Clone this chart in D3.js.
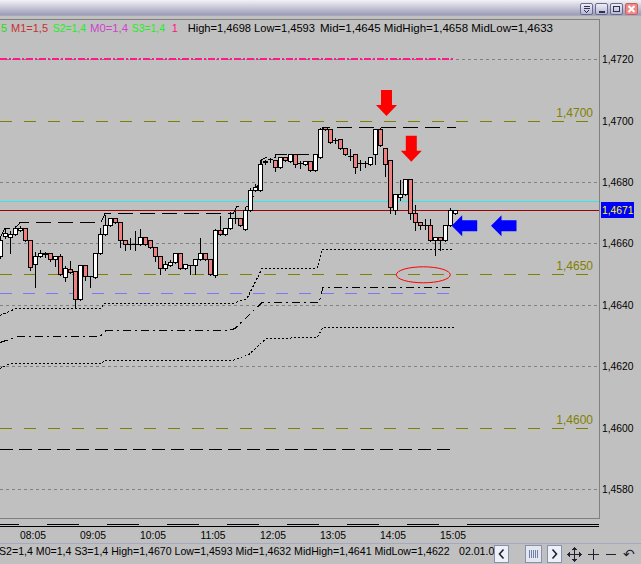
<!DOCTYPE html>
<html><head><meta charset="utf-8">
<script src="https://cdn.jsdelivr.net/npm/d3@7"></script>
<style>
html,body{margin:0;padding:0;background:#c0c0c0;overflow:hidden}
svg{display:block}
text{font-family:"Liberation Sans",Arial,sans-serif}
</style></head><body>
<svg id="c" width="641" height="564"></svg>
<script>
// ---------------- DATA ----------------
const startMinute = 450;           // first bar 07:30, 5-minute bars
const barMinutes = 5;
const opens  = [1.46558,1.46625,1.46621,1.46631,1.46642,1.46650,1.46612,1.46531,1.46560,1.46567,1.46569,1.46550,1.46560,1.46490,1.46515,1.46509,1.46419,1.46529,1.46492,1.46491,1.46569,1.46631,1.46661,1.46681,1.46670,1.46612,1.46598,1.46598,1.46598,1.46621,1.46610,1.46589,1.46559,1.46520,1.46529,1.46540,1.46569,1.46520,1.46529,1.46529,1.46550,1.46569,1.46550,1.46498,1.46642,1.46631,1.46650,1.46681,1.46681,1.46648,1.46710,1.46772,1.46772,1.46866,1.46873,1.46870,1.46848,1.46882,1.46867,1.46892,1.46862,1.46859,1.46867,1.46838,1.46882,1.46980,1.46971,1.46938,1.46941,1.46911,1.46884,1.46892,1.46862,1.46863,1.46859,1.46892,1.46971,1.46911,1.46870,1.46708,1.46751,1.46761,1.46810,1.46699,1.46670,1.46659,1.46661,1.46612,1.46621,1.46612,1.46659,1.46699];
const highs  = [1.46625,1.46651,1.46642,1.46658,1.46658,1.46651,1.46612,1.46574,1.46580,1.46574,1.46570,1.46563,1.46567,1.46528,1.46547,1.46509,1.46529,1.46529,1.46495,1.46569,1.46652,1.46694,1.46687,1.46684,1.46670,1.46612,1.46620,1.46642,1.46650,1.46621,1.46610,1.46589,1.46559,1.46545,1.46550,1.46569,1.46569,1.46531,1.46531,1.46550,1.46621,1.46569,1.46550,1.46650,1.46691,1.46650,1.46705,1.46710,1.46681,1.46721,1.46782,1.46795,1.46876,1.46876,1.46880,1.46870,1.46882,1.46882,1.46892,1.46892,1.46870,1.46867,1.46867,1.46892,1.46980,1.46980,1.46971,1.46945,1.46941,1.46911,1.46911,1.46892,1.46873,1.46871,1.46882,1.46971,1.46980,1.46911,1.46870,1.46761,1.46808,1.46810,1.46810,1.46729,1.46670,1.46683,1.46681,1.46621,1.46621,1.46659,1.46719,1.46710];
const lows   = [1.46554,1.46622,1.46571,1.46629,1.46642,1.46612,1.46515,1.46460,1.46560,1.46558,1.46547,1.46529,1.46500,1.46482,1.46507,1.46393,1.46419,1.46485,1.46460,1.46491,1.46569,1.46631,1.46661,1.46669,1.46591,1.46582,1.46585,1.46583,1.46598,1.46598,1.46589,1.46545,1.46502,1.46515,1.46528,1.46540,1.46520,1.46520,1.46502,1.46502,1.46550,1.46550,1.46501,1.46493,1.46631,1.46631,1.46650,1.46668,1.46659,1.46648,1.46710,1.46772,1.46772,1.46862,1.46868,1.46840,1.46848,1.46870,1.46867,1.46852,1.46850,1.46859,1.46838,1.46838,1.46882,1.46971,1.46929,1.46930,1.46911,1.46892,1.46873,1.46833,1.46843,1.46851,1.46859,1.46862,1.46920,1.46824,1.46703,1.46700,1.46743,1.46761,1.46681,1.46645,1.46650,1.46650,1.46612,1.46564,1.46583,1.46612,1.46659,1.46699];
const closes = [1.46612,1.46635,1.46631,1.46650,1.46650,1.46612,1.46522,1.46560,1.46569,1.46566,1.46550,1.46560,1.46501,1.46520,1.46507,1.46419,1.46529,1.46492,1.46493,1.46569,1.46631,1.46661,1.46681,1.46669,1.46610,1.46598,1.46597,1.46598,1.46621,1.46598,1.46589,1.46559,1.46520,1.46531,1.46540,1.46569,1.46520,1.46531,1.46528,1.46550,1.46569,1.46550,1.46501,1.46642,1.46631,1.46650,1.46681,1.46682,1.46659,1.46710,1.46772,1.46782,1.46859,1.46867,1.46874,1.46848,1.46882,1.46870,1.46892,1.46859,1.46862,1.46867,1.46838,1.46892,1.46971,1.46971,1.46929,1.46938,1.46911,1.46892,1.46884,1.46849,1.46862,1.46863,1.46882,1.46971,1.46920,1.46857,1.46719,1.46761,1.46761,1.46810,1.46699,1.46670,1.46659,1.46659,1.46612,1.46621,1.46612,1.46659,1.46708,1.46708];

// price axis ticks and time ticks
const priceTicks = [1.4720,1.4700,1.4680,1.4660,1.4640,1.4620,1.4600,1.4580];
const gridPrices = [1.4720,1.4680,1.4660,1.4640,1.4620,1.4580];
const roundLevels = [1.4700,1.4650,1.4600];
const timeTicks = [485,545,605,665,725,785,845,905];
const timeLabels = ["08:05","09:05","10:05","11:05","12:05","13:05","14:05","15:05"];

// full-width reference lines
const cyanLevel = 1.46739;
const lastPrice = 1.4671;
// partial reference lines [startMinute, endMinute, price]
const pinkLevel = [452, 907, 1.4720];
const blueLevel = [452, 904, 1.46437];
const lowLevel  = [452, 907, 1.45931];

// running session lines [minute, price]
const highLine = [[452,1.46622],[457,1.46651],[467,1.46651],[472,1.46671],[553,1.46671],[557,1.46699],[685,1.46699],[689,1.46720],[702,1.46720],[708,1.46782],[712,1.46795],[714,1.46876],[718,1.46882],[727,1.46882],[728,1.46892],[770,1.46892],[775,1.46980],[908,1.46980]];
const line1 = [[452,1.46368],[468,1.46390],[552,1.46390],[557,1.46406],[685,1.46406],[699,1.46423],[714,1.46520],[769,1.46520],[774,1.46582],[905,1.46582]];
const line2 = [[452,1.46277],[470,1.46297],[552,1.46297],[558,1.46316],[681,1.46316],[687,1.46325],[714,1.46409],[771,1.46409],[775,1.46457],[902,1.46457]];
const line3 = [[452,1.46194],[462,1.46211],[554,1.46211],[556,1.46219],[685,1.46219],[701,1.46238],[718,1.46292],[769,1.46295],[775,1.46327],[908,1.46327]];

// annotations [minute, price]
const downArrows = [[838.5,1.47016],[863.3,1.46867]];
const leftArrows = [[903.7,1.46659],[943,1.46659]];
const ellipseMark = [875.3,1.46499];

// legend pieces
const legendItems = [
  {t:"5", x:1, c:"#22dd22"},
  {t:"M1=1,5", x:11, w:37, c:"#c83232"},
  {t:"S2=1,4", x:52.7, w:33.3, c:"#22ee22"},
  {t:"M0=1,4", x:90, w:38, c:"#cc44cc"},
  {t:"S3=1,4", x:131.7, w:33.3, c:"#22ee22"},
  {t:"1", x:171.7, c:"#ff1080"},
  {t:"High=1,4698 Low=1,4593", x:187.7, w:127.3, c:"#000"},
  {t:"Mid=1,4645 MidHigh=1,4658 MidLow=1,4633", x:320, w:233, c:"#000"}
];
const statusText = "S2=1,4 M0=1,4 S3=1,4 High=1,4670 Low=1,4593 Mid=1,4632 MidHigh=1,4641 MidLow=1,4622";
const statusDate = "02.01.0";

// ---------------- DRAW ----------------
const svg = d3.select('#c');
const defs = svg.append('defs');
const plotL = 0, plotR = 599, plotT = 19, plotB = 518;

const x = d3.scaleLinear().domain([startMinute, 910]).range([-2, 458]);
const y = d3.scaleLinear().domain([1.4720, 1.4580]).range([59.6, 489.4]);
const py = p => Math.floor(y(p)) + 0.5;
const fmtP = p => d3.format('.4f')(p).replace('.', ',');

svg.append('rect').attr('width',641).attr('height',564).attr('fill','#c0c0c0');

// title bar
const tb = defs.append('linearGradient').attr('id','tb').attr('x1',0).attr('y1',0).attr('x2',0).attr('y2',1);
tb.append('stop').attr('offset','0%').attr('stop-color','#f2f2f6');
tb.append('stop').attr('offset','100%').attr('stop-color','#9c9cb8');
svg.append('rect').attr('x',0).attr('y',0).attr('width',641).attr('height',15).attr('fill','url(#tb)');
svg.append('rect').attr('x',0).attr('y',15).attr('width',641).attr('height',1).attr('fill','#a8a8bc');

// window buttons
const wb = defs.append('linearGradient').attr('id','wb').attr('x1',0).attr('y1',0).attr('x2',0).attr('y2',1);
wb.append('stop').attr('offset','0%').attr('stop-color','#f0f0fa');
wb.append('stop').attr('offset','100%').attr('stop-color','#b4b4d0');
const winBtns = [580.5, 595.5, 610.5, 625.5];
winBtns.forEach((bx,i)=>{
  svg.append('rect').attr('x',bx).attr('y',3.5).attr('width',12).attr('height',11).attr('rx',1.5)
    .attr('fill', i===3 ? '#f08a8a' : 'url(#wb)').attr('stroke', i===3 ? '#c06060' : '#6a6a90');
});
const sym = svg.append('g').attr('stroke','#303050').attr('fill','none').attr('shape-rendering','crispEdges');
sym.append('path').attr('d','M583.5,6.5h6M583.5,8.5h6M584.5,10.5l2,2l2,-2');
sym.append('path').attr('d','M598.5,11.5h6').attr('stroke-width',2);
sym.append('rect').attr('x',613.5).attr('y',6.5).attr('width',6).attr('height',5);
svg.append('path').attr('d','M628.5,6l6,6M634.5,6l-6,6').attr('stroke','#fff').attr('stroke-width',2);

// legend
const lg = svg.append('g').attr('font-size',11);
legendItems.forEach(d=>{
  const t = lg.append('text').attr('x',d.x).attr('y',31.5).attr('fill',d.c).text(d.t);
  if (d.w) t.attr('textLength',d.w).attr('lengthAdjust','spacingAndGlyphs');
});

// clip for plot
defs.append('clipPath').attr('id','pc').append('rect').attr('x',plotL).attr('y',plotT).attr('width',plotR-plotL).attr('height',plotB-plotT);
const plot = svg.append('g').attr('clip-path','url(#pc)');
const crisp = plot.append('g').attr('shape-rendering','crispEdges');

// gray gridlines
crisp.selectAll('line.grid').data(gridPrices).join('line').attr('class','grid')
  .attr('x1',plotL).attr('x2',plotR).attr('y1',py).attr('y2',py)
  .attr('stroke','#808080').attr('stroke-dasharray','3,3');

// pink line
crisp.append('line').attr('x1',x(pinkLevel[0])).attr('x2',x(pinkLevel[1]))
  .attr('y1',y(pinkLevel[2])-0.5).attr('y2',y(pinkLevel[2])-0.5)
  .attr('stroke','#ff1a8c').attr('stroke-width',2).attr('stroke-dasharray','7,2,2,2');

// olive round levels
crisp.selectAll('line.rl').data(roundLevels).join('line').attr('class','rl')
  .attr('x1',plotL).attr('x2',plotR).attr('y1',py).attr('y2',py)
  .attr('stroke','#808000').attr('stroke-dasharray','12,12');
plot.selectAll('text.rl').data(roundLevels).join('text').attr('class','rl')
  .attr('x',593).attr('y',d=>y(d)-4.5).attr('text-anchor','end')
  .attr('font-size',12).attr('fill','#808000').text(fmtP);

// cyan and last price lines
crisp.append('line').attr('x1',plotL).attr('x2',plotR).attr('y1',py(cyanLevel)).attr('y2',py(cyanLevel)).attr('stroke','#30e8e8');
crisp.append('line').attr('x1',plotL).attr('x2',plotR).attr('y1',py(lastPrice)).attr('y2',py(lastPrice)).attr('stroke','#a00000');

// blue level
crisp.append('line').attr('x1',x(blueLevel[0])).attr('x2',x(blueLevel[1])).attr('y1',py(blueLevel[2])).attr('y2',py(blueLevel[2]))
  .attr('stroke','#7878ff').attr('stroke-dasharray','12,11');

// low level
crisp.append('line').attr('x1',x(lowLevel[0])).attr('x2',x(lowLevel[1])).attr('y1',py(lowLevel[2])).attr('y2',py(lowLevel[2]))
  .attr('stroke','#000').attr('stroke-dasharray','13,6');

// running lines
const ln = d3.line().x(d=>x(d[0])).y(d=>py(d[1]));
const stepStyles = [
  {data: highLine, dash:'15,7'},
  {data: line1, dash:'2,2'},
  {data: line2, dash:'8,4,2,4'},
  {data: line3, dash:'2,2'}
];
stepStyles.forEach(s=>{
  crisp.append('path').attr('d',ln(s.data)).attr('fill','none').attr('stroke','#000').attr('stroke-dasharray',s.dash);
});

// candles
const bars = opens.map((o,i)=>({t:startMinute+barMinutes*i, o, h:highs[i], l:lows[i], c:closes[i]}));
const cg = crisp.append('g');
bars.forEach(d=>{
  const cx = x(d.t)+2.5;
  cg.append('line').attr('x1',cx).attr('x2',cx).attr('y1',py(d.h)).attr('y2',py(d.l)+1).attr('stroke','#000');
  const top = py(Math.max(d.o,d.c)), bot = py(Math.min(d.o,d.c));
  if (bot-top < 1) {
    cg.append('line').attr('x1',cx-2.5).attr('x2',cx+2.5).attr('y1',top).attr('y2',top).attr('stroke','#000');
  } else {
    cg.append('rect').attr('x',cx-2).attr('y',top).attr('width',4).attr('height',bot-top)
      .attr('fill', d.c>=d.o ? '#ffffff' : '#f08080').attr('stroke','#000');
  }
});

// annotations
plot.append('ellipse').attr('cx',x(ellipseMark[0])).attr('cy',y(ellipseMark[1])).attr('rx',27).attr('ry',8)
  .attr('fill','none').attr('stroke','#ff0000');
downArrows.forEach(a=>{
  const tx=x(a[0]), ty=y(a[1]);
  plot.append('path').attr('fill','#ff0000')
    .attr('d',`M${tx},${ty}L${tx-10.5},${ty-11}L${tx-5.5},${ty-11}L${tx-5.5},${ty-26}L${tx+5.5},${ty-26}L${tx+5.5},${ty-11}L${tx+10.5},${ty-11}Z`);
});
leftArrows.forEach(a=>{
  const tx=x(a[0]), ty=y(a[1]);
  plot.append('path').attr('fill','#0000ff')
    .attr('d',`M${tx},${ty}L${tx+10.5},${ty-10.5}L${tx+10.5},${ty-5.5}L${tx+25.5},${ty-5.5}L${tx+25.5},${ty+5.5}L${tx+10.5},${ty+5.5}L${tx+10.5},${ty+10.5}Z`);
});

// frame
const fr = svg.append('g').attr('shape-rendering','crispEdges').attr('stroke','#808080');
fr.append('line').attr('x1',0).attr('x2',599.5).attr('y1',19.5).attr('y2',19.5);
fr.append('line').attr('x1',599.5).attr('x2',599.5).attr('y1',19.5).attr('y2',518.5);
fr.append('line').attr('x1',0).attr('x2',599.5).attr('y1',518.5).attr('y2',518.5);

// price axis
const ax = svg.append('g').attr('font-size',10.3);
ax.selectAll('text').data(priceTicks).join('text').attr('x',602).attr('y',d=>y(d)+3.6).attr('fill','#000').text(fmtP);
svg.append('rect').attr('x',601).attr('y',Math.floor(y(lastPrice))-8).attr('width',33).attr('height',16).attr('fill','#0000ff');
svg.append('text').attr('x',602).attr('y',y(lastPrice)+3.8).attr('font-size',10.3).attr('fill','#ffff00').text(fmtP(lastPrice));

// time axis
const ta = svg.append('g').attr('shape-rendering','crispEdges');
ta.append('line').attr('x1',0).attr('x2',599).attr('y1',526.5).attr('y2',526.5).attr('stroke','#000');
const gaps = timeTicks.map(t=>[x(t)-13.7, x(t)+13.7]);
let sx = 0;
gaps.forEach(g=>{ ta.append('line').attr('x1',sx).attr('x2',g[0]).attr('y1',524.5).attr('y2',524.5).attr('stroke','#000'); sx = g[1]; });
ta.append('line').attr('x1',sx).attr('x2',599).attr('y1',524.5).attr('y2',524.5).attr('stroke','#000');
svg.append('g').attr('font-size',10.3).selectAll('text').data(timeTicks).join('text')
  .attr('x',d=>x(d)).attr('y',538.5).attr('text-anchor','middle').attr('fill','#000')
  .text((d,i)=>timeLabels[i]);

// status bar
svg.append('line').attr('x1',0).attr('x2',641).attr('y1',543.5).attr('y2',543.5).attr('stroke','#a4a8c0').attr('shape-rendering','crispEdges');
const st = svg.append('g').attr('fill','#000');
st.append('text').attr('x',-1).attr('y',555).attr('font-size',10.6).text(statusText);
st.append('text').attr('x',459).attr('y',555).attr('font-size',10.6).text(statusDate);
const sb = svg.append('g').attr('shape-rendering','crispEdges');
sb.append('rect').attr('x',494.5).attr('y',545.5).attr('width',14).attr('height',17).attr('fill','#eef0f8').attr('stroke','#8890b0');
sb.append('rect').attr('x',525.5).attr('y',545.5).attr('width',16).attr('height',17).attr('fill','#e4e6f0').attr('stroke','#8890b0');
sb.append('rect').attr('x',547.5).attr('y',545.5).attr('width',14).attr('height',17).attr('fill','#eef0f8').attr('stroke','#8890b0');
[529.5,531.5,533.5,535.5,537.5].forEach(gx=>sb.append('line').attr('x1',gx).attr('x2',gx).attr('y1',550).attr('y2',558).attr('stroke','#7080a8'));
const ic = svg.append('g').attr('stroke','#202030').attr('fill','none').attr('stroke-width',1.6);
ic.append('path').attr('d','M503.5,549.5l-4,4.5l4,4.5');
ic.append('path').attr('d','M552.5,549.5l4,4.5l-4,4.5');
const ic2 = svg.append('g').attr('stroke','#202030').attr('fill','#202030').attr('shape-rendering','crispEdges');
ic2.append('path').attr('d','M574.5,548v13M568,554.5h13');
ic2.append('path').attr('d','M574.5,547l-2.5,3h5zM574.5,562l-2.5,-3h5zM567,554.5l3,-2.5v5zM582,554.5l-3,-2.5v5z').attr('stroke','none');
ic2.append('path').attr('d','M593.5,549v11M588,554.5h11');
ic2.append('path').attr('d','M606,554.5h10');
svg.append('text').attr('x',623).attr('y',559).attr('font-size',14).attr('font-family','DejaVu Sans').attr('fill','#202030').text('↶');
</script>
</body></html>
